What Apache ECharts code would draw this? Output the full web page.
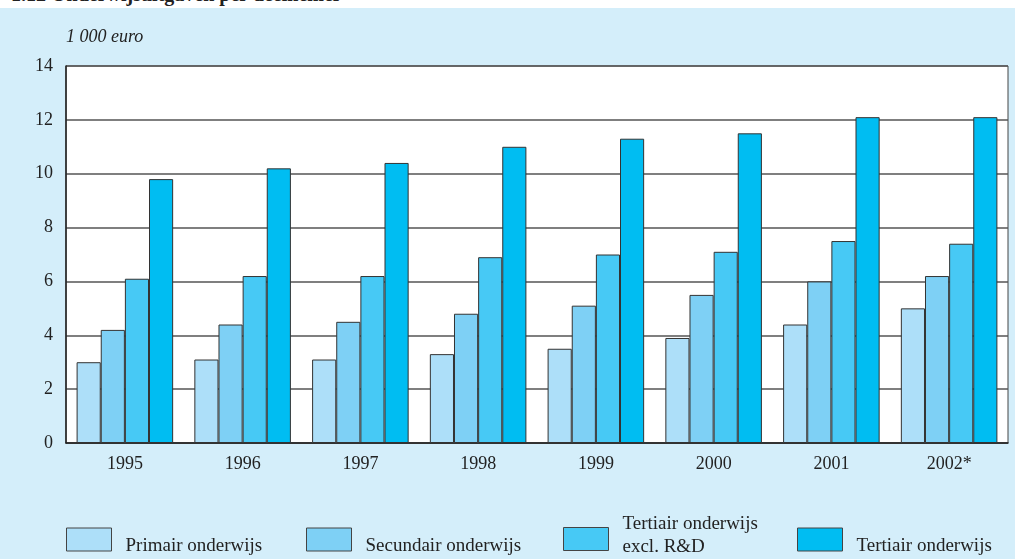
<!DOCTYPE html>
<html>
<head>
<meta charset="utf-8">
<script src="https://cdn.jsdelivr.net/npm/echarts@6/dist/echarts.min.js"></script>
<style>
  html, body { margin: 0; padding: 0; background: #fff; }
  #title { position: absolute; left: 11px; top: -17px; font: bold 20px "Liberation Serif", serif; color: #222; white-space: nowrap; }
  #chart { position: absolute; left: 0; top: 0; width: 1015px; height: 559px; }
</style>
</head>
<body>
<div id="title">1.12 Onderwijsuitgaven per deelnemer</div>
<div id="chart"></div>
<script>
var years = ["1995", "1996", "1997", "1998", "1999", "2000", "2001", "2002*"];
var primair = [3.0, 3.1, 3.1, 3.3, 3.5, 3.9, 4.4, 5.0];
var secundair = [4.2, 4.4, 4.5, 4.8, 5.1, 5.5, 6.0, 6.2];
var tertiairExcl = [6.1, 6.2, 6.2, 6.9, 7.0, 7.1, 7.5, 7.4];
var tertiair = [9.8, 10.2, 10.4, 11.0, 11.3, 11.5, 12.1, 12.1];
var names = ["Primair onderwijs", "Secundair onderwijs", "Tertiair onderwijs\nexcl. R&D", "Tertiair onderwijs"];
var colors = ["#addff9", "#7ed0f5", "#47c9f5", "#00bdf2"];

var chart = echarts.init(document.getElementById("chart"));
var font = "Liberation Serif";

// each legend item sits on its own, the reference spaces them unevenly
function legendAt(i, left, top, pad) {
  return {
    data: [names[i]],
    left: left,
    top: top,
    padding: 0,
    itemWidth: 45,
    itemHeight: 23,
    icon: "rect",
    itemStyle: { borderColor: "#444", borderWidth: 1 },
    formatter: function (n) {
      return n.split("\n").map(function (s) { return "{t|" + s + "}"; }).join("\n");
    },
    textStyle: {
      rich: { t: { fontFamily: font, fontSize: 19, color: "#222", lineHeight: 23, padding: pad } }
    }
  };
}

var series = [primair, secundair, tertiairExcl, tertiair].map(function (d, i) {
  return {
    name: names[i],
    type: "bar",
    data: d,
    barGap: "0%",
    barCategoryGap: "18%",
    itemStyle: { color: colors[i], borderColor: "#333", borderWidth: 1 }
  };
});

var option = {
  backgroundColor: "transparent",
  animation: false,
  graphic: [
    { type: "rect", left: 0, top: 8, shape: { width: 1015, height: 551 }, style: { fill: "#d4eefa" }, z: -10 },
    { type: "text", left: 66, top: 28, style: { text: "1 000 euro", font: "italic 18px Liberation Serif", fill: "#222" } }
  ],
  legend: [
    legendAt(0, 66, 523, [14, 0, 0, 9]),
    legendAt(1, 306, 523, [14, 0, 0, 9]),
    legendAt(2, 563, 515, [0, 0, 6, 9]),
    legendAt(3, 797, 523, [14, 0, 0, 9])
  ],
  grid: { left: 66, right: 7, top: 66, bottom: 116, show: true, backgroundColor: "#fff", borderColor: "#444", borderWidth: 1 },
  xAxis: {
    type: "category",
    data: years,
    axisLine: { lineStyle: { color: "#222", width: 1.5 } },
    axisTick: { show: false },
    axisLabel: { fontFamily: font, fontSize: 18, color: "#222", margin: 12 }
  },
  yAxis: {
    type: "value",
    min: 0,
    max: 14,
    interval: 2,
    axisLine: { show: true, lineStyle: { color: "#222", width: 1.5 } },
    axisTick: { show: false },
    axisLabel: { fontFamily: font, fontSize: 18, color: "#222", margin: 13 },
    splitLine: { lineStyle: { color: "#555", width: 1.5 } }
  },
  series: series
};
chart.setOption(option);
</script>
</body>
</html>
